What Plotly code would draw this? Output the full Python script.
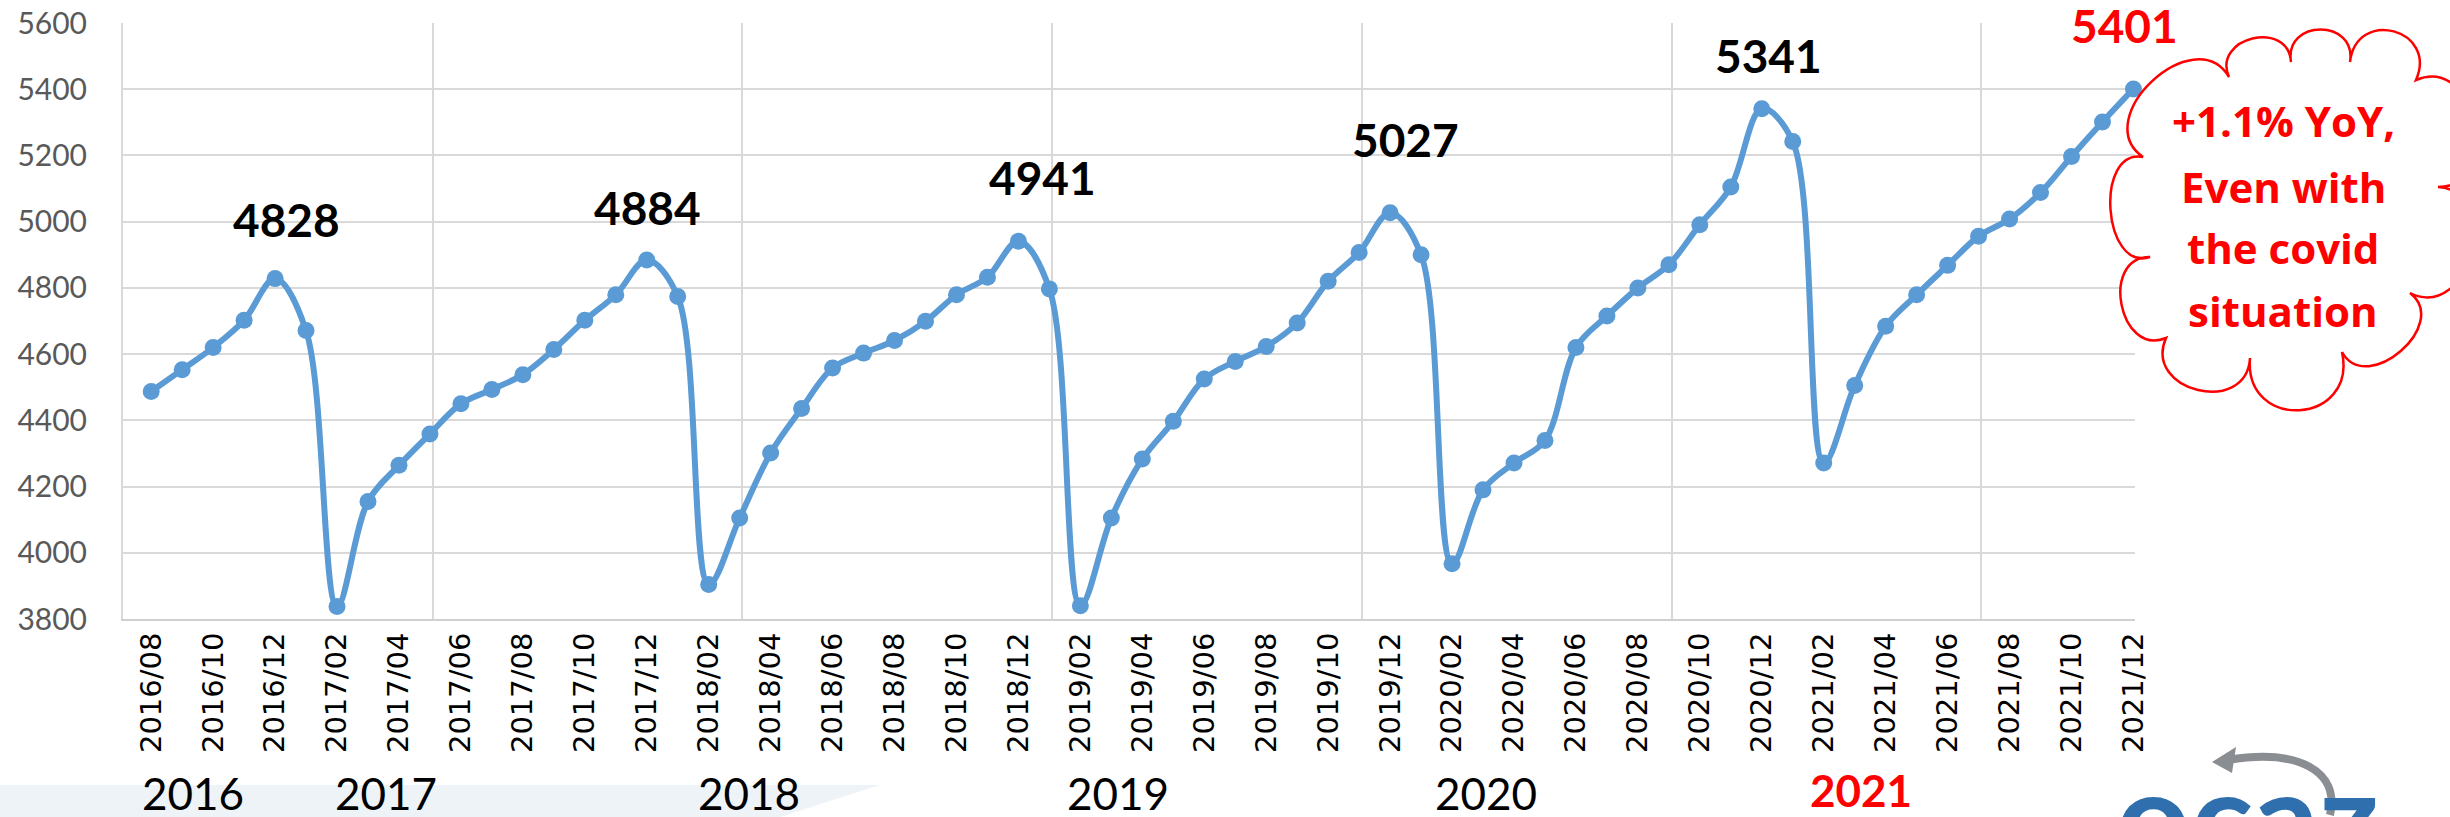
import math
import plotly.graph_objects as go

# ---------------- data ----------------
months = []
for y in range(2016, 2022):
    for m in range(1, 13):
        if y == 2016 and m < 8:
            continue
        months.append(f"{y}/{m:02d}")

values = [
    4487, 4553, 4620, 4702, 4828,                                            # 2016/08-12
    4671, 3838, 4155, 4264, 4359, 4450, 4493, 4538, 4614, 4702, 4779, 4884,  # 2017
    4774, 3904, 4105, 4301, 4436, 4558, 4603, 4641, 4699, 4779, 4832, 4941,  # 2018
    4797, 3840, 4105, 4283, 4397, 4525, 4578, 4623, 4694, 4820, 4907, 5027,  # 2019
    4900, 3967, 4190, 4271, 4339, 4620, 4715, 4800, 4870, 4991, 5105, 5341,  # 2020
    5242, 4271, 4505, 4684, 4779, 4868, 4956, 5008, 5088, 5197, 5301, 5401,  # 2021
]

tick_labels = months[::2]
peak_months = ["2016/12", "2017/12", "2018/12", "2019/12", "2020/12", "2021/12"]
year_labels = ["2016", "2017", "2018", "2019", "2020", "2021"]
callout_lines = ["+1.1% YoY,", "Even with", "the covid", "situation"]

# ---------------- style / layout constants ----------------
W_FIG, H_FIG = 2450, 817
L, R, T, B = 123, 315, 23, 198
PW, PH = W_FIG - L - R, H_FIG - T - B
BOTTOM = T + PH

LINE_C = "#5B9BD5"
GRID_C = "#D9D9D9"
RED = "#FF0000"

x_idx = list(range(len(months)))


def px2paper(px, py):
    return (px - L) / PW, (BOTTOM - py) / PH


fig = go.Figure()
fig.add_trace(go.Scatter(
    x=x_idx, y=values, mode="lines+markers",
    line=dict(color=LINE_C, width=6, shape="spline", smoothing=1.0),
    marker=dict(size=17, color=LINE_C), cliponaxis=False,
    hoverinfo="skip", showlegend=False,
))

annotations = []

# peak labels
peak_dx = [11, 1, 24, 15, 7, -9]
peak_dy = [59, 53, 64, 73, 53, 63]
for k, pm in enumerate(peak_months):
    i = months.index(pm)
    last = k == len(peak_months) - 1
    annotations.append(dict(
        x=i, y=values[i], xref="x", yref="y", text=f"<b>{values[i]}</b>",
        showarrow=False, xshift=peak_dx[k], yshift=peak_dy[k],
        xanchor="center", yanchor="middle", borderpad=0,
        font=dict(family="Lato", size=46, color=RED if last else "#000000"),
    ))

# year labels under the axis
year_x = [1.35, 7.58, 19.29, 31.22, 43.1, 55.2]
for k, yl in enumerate(year_labels):
    last = k == len(year_labels) - 1
    annotations.append(dict(
        x=year_x[k], xref="x", y=(BOTTOM - (790 if last else 793)) / PH, yref="paper",
        text=f"<b>{yl}</b>" if last else yl, showarrow=False,
        xanchor="center", yanchor="middle", borderpad=0,
        font=dict(family="Lato", size=44, color=RED if last else "#000000"),
    ))

# callout text inside the cloud
line_y = [120, 186, 247, 310]
for k, t in enumerate(callout_lines):
    xp, yp = px2paper(2283, line_y[k])
    annotations.append(dict(
        x=xp, y=yp, xref="paper", yref="paper", text=f"<b>{t}</b>",
        showarrow=False, xanchor="center", yanchor="middle",
        font=dict(family="Open Sans", size=42, color=RED),
    ))

# logo text (only its top part is visible at the bottom edge)
lx, ly = px2paper(2247, 735)
annotations.append(dict(
    x=lx, y=ly, xref="paper", yref="paper", text="<b>ocaz</b>", showarrow=False,
    xanchor="center", yanchor="top",
    font=dict(family="Lato", size=130, color="#2F6FAD"),
))

shapes = []

# light background band at the bottom of the slide
band = [(0, 785), (880, 785), (780, 817), (0, 817)]
p = "M " + " L ".join("%.5f,%.5f" % px2paper(a, b) for a, b in band) + " Z"
shapes.append(dict(type="path", path=p, xref="paper", yref="paper",
                   fillcolor="#EEF3F7", line=dict(width=0), layer="below"))

# cloud callout: lobes between junction points (pixel geometry of the decoration)
junctions = [(2229, 77), (2291, 62), (2350, 62), (2416, 80), (2438, 187), (2410, 293),
             (2342, 352), (2250, 358), (2166, 338), (2150, 257), (2143, 157)]
bulge = [0.5, 0.55, 0.6, 0.45, 0.45, 0.42, 0.6, 0.5, 0.45, 0.36, 0.42]
ccx = sum(q[0] for q in junctions) / len(junctions)
ccy = sum(q[1] for q in junctions) / len(junctions)
path = "M %.5f,%.5f" % px2paper(*junctions[0])
for j in range(len(junctions)):
    p0 = junctions[j]
    p1 = junctions[(j + 1) % len(junctions)]
    dx, dy = p1[0] - p0[0], p1[1] - p0[1]
    d = math.hypot(dx, dy)
    nx, ny = dy / d, -dx / d
    mx, my = (p0[0] + p1[0]) / 2, (p0[1] + p1[1]) / 2
    if (mx - ccx) * nx + (my - ccy) * ny < 0:
        nx, ny = -nx, -ny
    h = d * bulge[j] * 4 / 3
    c1 = (p0[0] + nx * h - dx * 0.12, p0[1] + ny * h - dy * 0.12)
    c2 = (p1[0] + nx * h + dx * 0.12, p1[1] + ny * h + dy * 0.12)
    path += " C %.5f,%.5f %.5f,%.5f %.5f,%.5f" % (*px2paper(*c1), *px2paper(*c2), *px2paper(*p1))
path += " Z"
shapes.append(dict(type="path", path=path, xref="paper", yref="paper",
                   fillcolor="rgba(255,255,255,1)", line=dict(color=RED, width=2.5)))

# logo arrow
arc = [(2330, 815), (2340, 772), (2300, 748), (2228, 760)]
ap = "M %.5f,%.5f C %.5f,%.5f %.5f,%.5f %.5f,%.5f" % tuple(
    v for q in arc for v in px2paper(*q))
shapes.append(dict(type="path", path=ap, xref="paper", yref="paper",
                   line=dict(color="#8A8D91", width=8)))
head = [(2212, 762), (2236, 747), (2232, 773)]
hp = "M " + " L ".join("%.5f,%.5f" % px2paper(a, b) for a, b in head) + " Z"
shapes.append(dict(type="path", path=hp, xref="paper", yref="paper",
                   fillcolor="#8A8D91", line=dict(width=0)))

fig.update_layout(
    width=W_FIG, height=H_FIG, autosize=False,
    margin=dict(l=L, r=R, t=T, b=B, pad=0),
    paper_bgcolor="white", plot_bgcolor="white",
    annotations=annotations, shapes=shapes,
    xaxis=dict(
        range=[-0.91, 64.05], tickmode="array",
        tickvals=x_idx[::2], ticktext=tick_labels, tickangle=-90,
        tickfont=dict(family="DejaVu Sans", size=29, color="#000000"),
        showgrid=False, zeroline=False, ticks="", ticklabelstandoff=0,
        showline=True, linecolor="#D0D0D0", linewidth=2, automargin=False,
        minor=dict(tickvals=[-0.91 + 10 * k for k in range(7)], showgrid=True,
                   gridcolor=GRID_C, gridwidth=2, ticks=""),
    ),
    yaxis=dict(
        range=[3800, 5600], tick0=3800, dtick=200,
        tickfont=dict(family="Lato", size=30, color="#595959"),
        showgrid=True, gridcolor=GRID_C, gridwidth=2, zeroline=False, automargin=False,
        showline=True, linecolor=GRID_C, linewidth=2, ticks="", ticklabelstandoff=28,
    ),
)

fig.write_html("out.html", config={"displayModeBar": False},
               post_script="document.body.style.margin='0px';")
